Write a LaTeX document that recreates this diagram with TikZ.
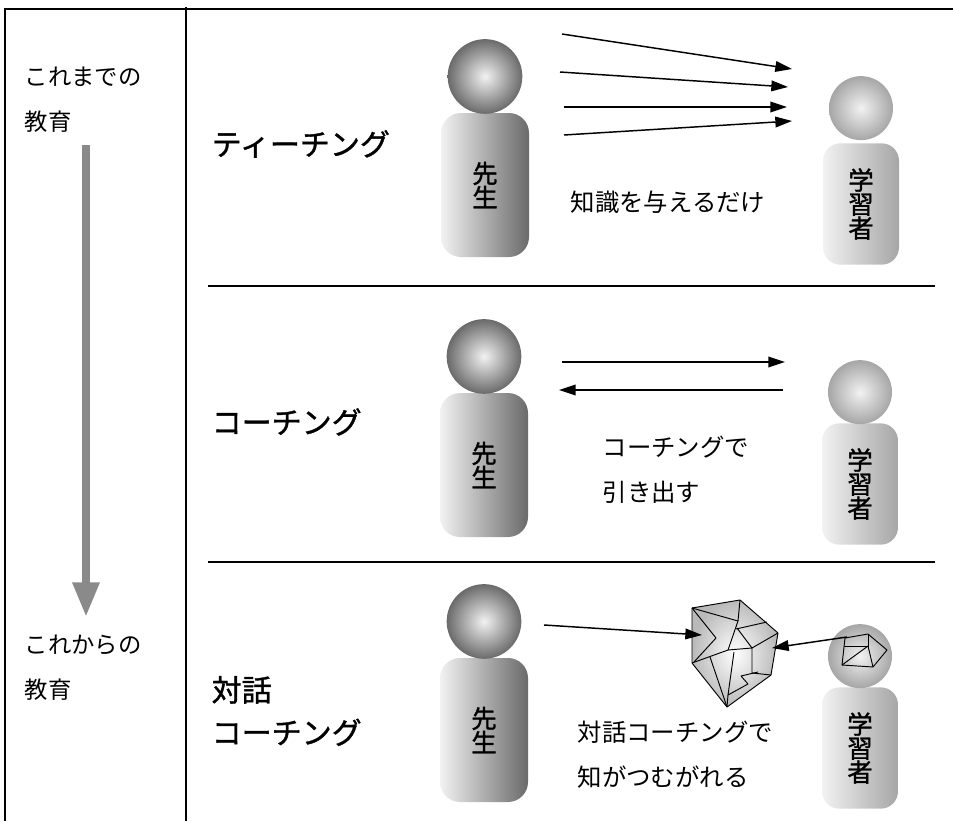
\documentclass[tikz,border=0pt]{standalone}
\usepackage{fontspec}
\setmainfont{Noto Sans CJK JP}
\newfontfamily\halbfett{Noto Sans CJK JP}[FakeBold=1.2]
\usetikzlibrary{arrows.meta}
\usetikzlibrary{positioning}

\definecolor{hell}{HTML}{F2F2F2}
\definecolor{dunkel}{HTML}{6A6A6A}
\definecolor{mittel}{HTML}{A6A6A6}
\definecolor{zeitgrau}{HTML}{8A8A8A}

\tikzset{
  rahmen/.style={line width=1.5pt},
  pfeil/.style={line width=1.1pt,-{Triangle[length=12.5pt,width=8pt]}},
  zeitpfeil/.style={line width=6pt,zeitgrau,-{Triangle[length=26pt,width=19pt]}},
  stufe/.style={anchor=west,align=left,font=\halbfett\fontsize{22.5}{32}\selectfont},
  zeile/.style={anchor=west,align=left,font=\fontsize{17.5}{34}\selectfont},
  notiz/.style={anchor=west,align=left,font=\fontsize{18.3}{34}\selectfont},
  lehrer/.style={rounded corners=15pt,minimum width=66pt,minimum height=108pt,
    left color=hell,right color=dunkel,align=center,
    font=\halbfett\fontsize{19}{18}\selectfont},
  lerner/.style={rounded corners=13pt,minimum width=57pt,minimum height=91pt,
    left color=hell,right color=mittel,align=center,
    font=\halbfett\fontsize{19}{18}\selectfont},
  lehrerkopf/.style={circle,minimum size=56pt,inner sep=0pt,
    inner color=hell,outer color=dunkel},
  lernerkopf/.style={circle,minimum size=48pt,inner sep=0pt,
    inner color=hell,outer color=mittel},
  bruch/.style={line width=0.7pt,line join=round}
}

\begin{document}
\begin{tikzpicture}[x=0.75pt,y=-0.75pt]
\useasboundingbox (0,0) rectangle (953,821);

% Tabelle
\draw[rahmen] (5,821) -- (5,9) -- (953,9);
\draw[rahmen] (186,7) -- (186,821);
\draw[rahmen] (208,286) -- (935,286);
\draw[rahmen] (208,562) -- (935,562);

% linke Spalte
\node[zeile] (alt) at (20,100) {これまでの\\教育};
\node[zeile] (neu) at (20,668) {これからの\\教育};
\coordinate (zeit-a) at (86,145);
\coordinate (zeit-b) at (86,617);
\draw[zeitpfeil] (zeit-a) -- (zeit-b);

% Stufen
\node[stufe] (teaching) at (207,144) {ティーチング};
\node[stufe] (coaching) at (207,422) {コーチング};
\node[stufe] (dialog) at (207,711) {対話\\コーチング};

% Personen
\node[lehrer] (l1) at (485,185) {先\\生};
\node[lehrerkopf,above=-1pt of l1] (l1k) {};
\node[lerner] (s1) at (861,204) {学\\習\\者};
\node[lernerkopf,above=2pt of s1] (s1k) {};

\node[lehrer] (l2) at (484,465) {先\\生};
\node[lehrerkopf,above=-1pt of l2] (l2k) {};
\node[lerner] (s2) at (860,484) {学\\習\\者};
\node[lernerkopf,above=-1pt of s2] (s2k) {};

\node[lehrer] (l3) at (484,730) {先\\生};
\node[lehrerkopf,above=-1pt of l3] (l3k) {};
\node[lerner] (s3) at (860,748) {学\\習\\者};
\node[lernerkopf,above=-1pt of s3] (s3k) {};

% Teaching: Pfeile nur in eine Richtung
\coordinate (t1a) at (562,34);  \coordinate (t1b) at (792,69);
\coordinate (t2a) at (560,72);  \coordinate (t2b) at (788,87);
\coordinate (t3a) at (564,107); \coordinate (t3b) at (787,107);
\coordinate (t4a) at (564,135); \coordinate (t4b) at (792,121);
\foreach \i in {1,...,4}
  \draw[pfeil] (t\i a) -- (t\i b);
\node[notiz] (nur) at (566,202) {知識を与えるだけ};

% Coaching: hin und zurueck
\coordinate (c1a) at (562,362); \coordinate (c1b) at (785,362);
\coordinate (c2a) at (783,390); \coordinate (c2b) at (559,390);
\draw[pfeil] (c1a) -- (c1b);
\draw[pfeil] (c2a) -- (c2b);
\node[notiz] (zieh) at (598,470) {コーチングで\\引き出す};

% Dialog: Kristall
\shade[draw,bruch,inner color=white,outer color=gray!55]
  (692,608) -- (740,600) -- (778,633) -- (771,675) -- (727,707) -- (692,663) -- cycle;
\draw[bruch] (692,608) -- (738,621) -- (740,600);
\draw[bruch] (738,621) -- (728,650);
\draw[bruch] (736,629) -- (767,622);
\draw[bruch] (737,628) -- (752,648) -- (778,633);
\draw[bruch] (752,648) -- (752,673) -- (771,675);
\draw[bruch] (692,608) -- (716,638) -- (694,662);
\draw[bruch] (692,663) -- (728,650) -- (752,648);
\draw[bruch] (710,657) -- (727,707);
\draw[bruch] (734,652) -- (728,695) -- (748,684) -- (741,676) -- (758,672);
\draw[bruch] (728,695) -- (727,707);
% kleiner Kristall im Kopf
\draw[bruch] (845,638) -- (868,634) -- (887,650) -- (873,667) -- (842,665) -- cycle;
\draw[bruch] (844,646) -- (868,646) -- (868,634);
\draw[bruch] (868,646) -- (873,667);
\draw[bruch] (842,665) -- (868,646);

\coordinate (d1a) at (544,625); \coordinate (d1b) at (702,635);
\coordinate (d2a) at (847,637); \coordinate (d2b) at (772,648);
\draw[pfeil] (d1a) -- (d1b);
\draw[pfeil] (d2a) -- (d2b);
\node[notiz] (weben) at (573,755) {対話コーチングで\\知がつむがれる};

\end{tikzpicture}
\end{document}
